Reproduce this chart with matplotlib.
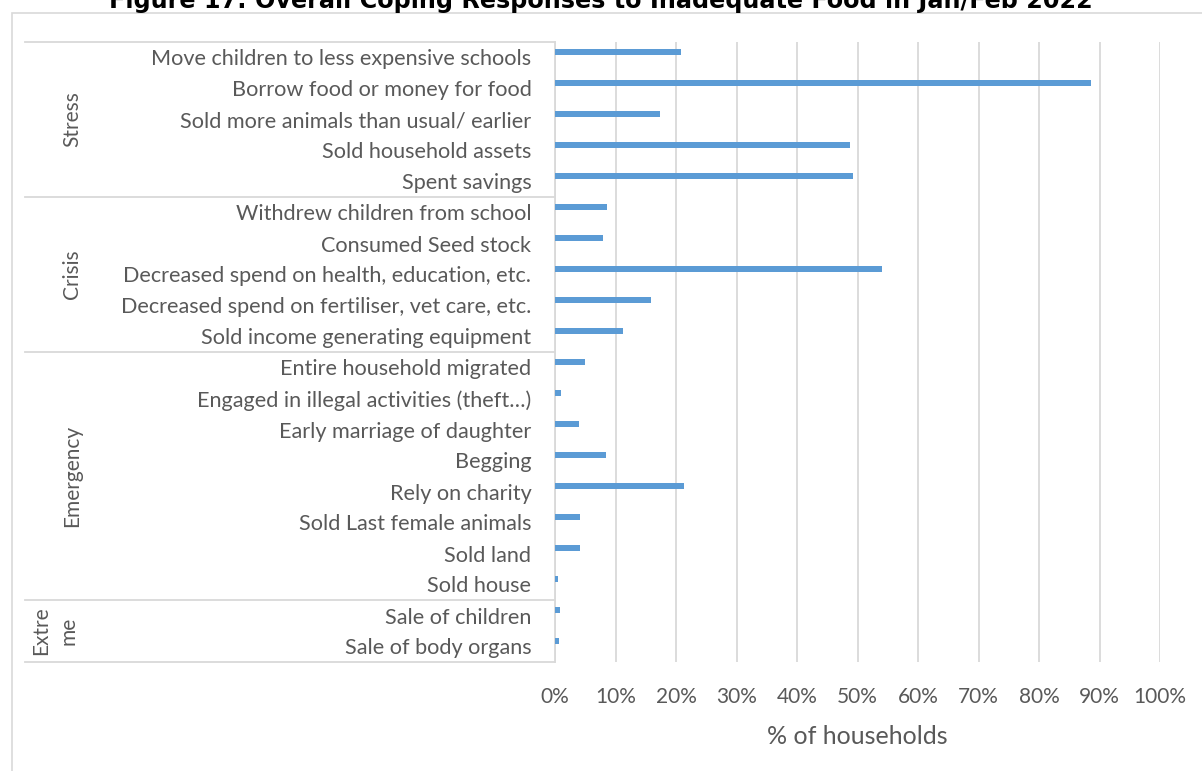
import matplotlib
matplotlib.use("Agg")
import matplotlib.pyplot as plt
from matplotlib.lines import Line2D
from matplotlib.patches import Rectangle

categories = [
    "Move children to less expensive schools",
    "Borrow food or money for food",
    "Sold more animals than usual/ earlier",
    "Sold household assets",
    "Spent savings",
    "Withdrew children from school",
    "Consumed Seed stock",
    "Decreased spend on health, education, etc.",
    "Decreased spend on fertiliser, vet care, etc.",
    "Sold income generating equipment",
    "Entire household migrated",
    "Engaged in illegal activities (theft\u2026)",
    "Early marriage of daughter",
    "Begging",
    "Rely on charity",
    "Sold Last female animals",
    "Sold land",
    "Sold house",
    "Sale of children",
    "Sale of body organs",
]
values = [20.9, 88.6, 17.3, 48.8, 49.3,
          8.6, 8.0, 54.0, 15.9, 11.3,
          5.0, 1.0, 4.0, 8.4, 21.3, 4.2, 4.1, 0.45,
          0.8, 0.6]
groups = ["Stress", "Crisis", "Emergency", "Extre\nme"]
group_sizes = [5, 5, 8, 2]
xticks = [0, 10, 20, 30, 40, 50, 60, 70, 80, 90, 100]
xtick_labels = [f"{t}%" for t in xticks]

W, H = 1202, 771
fig = plt.figure(figsize=(W / 100, H / 100), dpi=100)
fig.patch.set_facecolor("white")

def fx(px):
    return px / W

def fy(py):
    return 1 - py / H

TEXT = "#595959"
GRID = "#d9d9d9"
BAR = "#5b9bd5"
FONT = ["Lato", "DejaVu Sans"]

# outer chart border (runs off the right and bottom edges like the reference)
fig.add_artist(Rectangle((fx(12), fy(800)), fx(1300), (800 - 13) / H,
                         transform=fig.transFigure, fill=False, edgecolor=GRID, lw=1.2))

# title (partly cut at top like the reference)
fig.text(fx(601), fy(8), "Figure 17: Overall Coping Responses to Inadequate Food in Jan/Feb 2022",
         ha="center", va="baseline", fontsize=17.2, fontweight="bold", color="black",
         family=["DejaVu Sans"])

top_px, bot_px = 42, 662
left_px, right_px = 555, 1160
ax = fig.add_axes([fx(left_px), fy(bot_px), fx(right_px - left_px), (bot_px - top_px) / H])
n = len(categories)
ypos = [i - 0.18 for i in range(n)]
ax.barh(ypos, values, height=0.19, color=BAR, zorder=3)
ax.set_xlim(0, 100)
ax.set_ylim(n - 0.5, -0.5)
ax.set_xticks(xticks)
ax.set_xticklabels(xtick_labels, fontsize=15, color=TEXT, family=FONT)
ax.tick_params(axis="x", length=0, pad=18)
ax.set_yticks(range(n))
ax.set_yticklabels(categories, fontsize=15.6, color=TEXT, family=FONT)
ax.tick_params(axis="y", length=0, pad=17)
ax.grid(axis="x", color=GRID, lw=1.3, zorder=0)
for s in ["top", "right", "bottom"]:
    ax.spines[s].set_visible(False)
ax.spines["left"].set_color(GRID)
ax.spines["left"].set_linewidth(1.3)
ax.set_xlabel("% of households", fontsize=18, color=TEXT, family=FONT, labelpad=13)

# group separators and labels
row_h = (bot_px - top_px) / n
start = 0
bounds = [0]
for g in group_sizes:
    start += g
    bounds.append(start)
for b in bounds:
    ypx = top_px + b * row_h
    fig.add_artist(Line2D([fx(25), fx(left_px)], [fy(ypx), fy(ypx)],
                          transform=fig.transFigure, color=GRID, lw=1.3))
for gi, name in enumerate(groups):
    mid = top_px + (bounds[gi] + bounds[gi + 1]) / 2 * row_h
    xpx = 72 if "\n" not in name else 55
    fig.text(fx(xpx), fy(mid), name, rotation=90, ha="center", va="center",
             fontsize=15, color=TEXT, family=FONT, multialignment="center",
             linespacing=1.5)

fig.savefig("out.png", dpi=100)
